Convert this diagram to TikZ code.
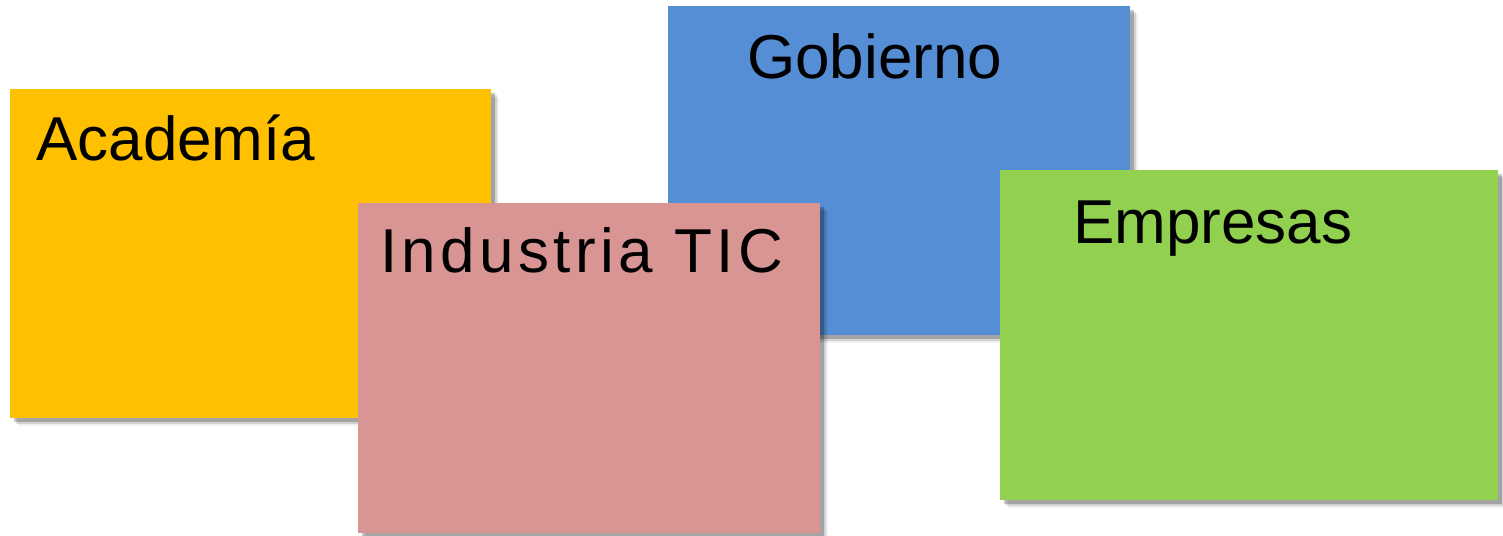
\documentclass[tikz,border=0pt]{standalone}
\usepackage{fontspec}
\setmainfont{Liberation Sans}
\usetikzlibrary{shadows}
\definecolor{cYellow}{HTML}{FFC000}
\definecolor{cBlue}{HTML}{558ED5}
\definecolor{cPink}{HTML}{D99594}
\definecolor{cGreen}{HTML}{92D050}
\tikzset{
  card/.style={rectangle, draw=none, inner sep=0pt, anchor=north west,
    drop shadow={shadow xshift=8pt, shadow yshift=-8pt, opacity=0.06, fill=black},
    drop shadow={shadow xshift=6pt, shadow yshift=-6pt, opacity=0.12, fill=black},
    drop shadow={shadow xshift=4pt, shadow yshift=-4pt, opacity=0.22, fill=black}},
  cardtext/.style={anchor=base west, inner sep=0pt, font=\fontsize{62}{70}\selectfont, text=black}
}
\begin{document}
\begin{tikzpicture}[x=1pt, y=-1pt]
\useasboundingbox[fill=white] (0,0) rectangle (1503,535);
\node[card, fill=cYellow, minimum width=481pt, minimum height=329pt] (aca) at (10,89) {};
\node[cardtext] (acat) at ([shift={(26,71)}]aca.north west) {Academía};
\node[card, fill=cBlue, minimum width=462pt, minimum height=329pt] (gob) at (668,6) {};
\node[cardtext] (gobt) at ([shift={(79,72)}]gob.north west) {Gobierno};
\node[card, fill=cPink, minimum width=462pt, minimum height=330pt] (ind) at (358,203) {};
\node[cardtext] (indt) at ([shift={(22,69)}]ind.north west) {\addfontfeature{LetterSpace=7}Industria TIC};
\node[card, fill=cGreen, minimum width=498pt, minimum height=330pt] (emp) at (1000,170) {};
\node[cardtext] (empt) at ([shift={(73,73)}]emp.north west) {Empresas};
\end{tikzpicture}
\end{document}
